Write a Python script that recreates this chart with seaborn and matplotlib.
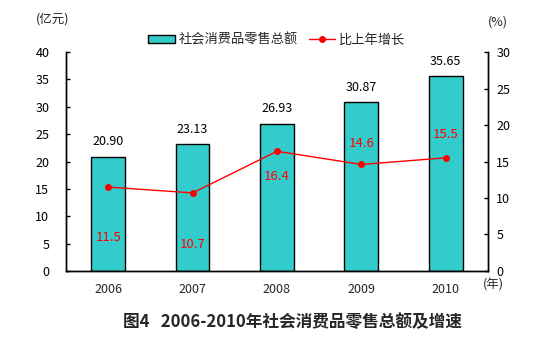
import numpy as np
import pandas as pd
import seaborn as sns
import matplotlib.pyplot as plt
from matplotlib.patches import Patch
from matplotlib.lines import Line2D

years = ['2006', '2007', '2008', '2009', '2010']
sales = [20.90, 23.13, 26.93, 30.87, 35.65]   # 亿元
growth = [11.5, 10.7, 16.4, 14.6, 15.5]       # %

# vertical offset (points) of the red growth labels from their markers
growth_label_off = [-36, -37, -18, 15, 17]

sns.set_style('white')
plt.rcParams['font.family'] = ['Noto Sans CJK SC', 'DejaVu Sans']

df = pd.DataFrame({'year': years, 'sales': sales})

fig = plt.figure(figsize=(5.57, 3.54), dpi=100)
ax = fig.add_axes([0.1185, 0.2345, 0.7575, 0.6185])

sns.barplot(data=df, x='year', y='sales', color='#33CCCC', saturation=1,
            edgecolor='black', linewidth=1, width=0.4, ax=ax)

ax.set_ylim(0, 40)
ax.set_yticks(np.arange(0, 41, 5))
ax.set_xlim(-0.5, 4.5)
ax.set_xlabel('')
ax.set_ylabel('')
ax.tick_params(axis='y', direction='in', length=3, width=1, labelsize=9, pad=12, colors='black')
ax.tick_params(axis='x', which='major', length=0, labelsize=9, pad=9)
ax.set_xticks([0.5, 1.5, 2.5, 3.5], minor=True)
ax.tick_params(axis='x', which='minor', direction='in', length=3, width=1)

for i, v in enumerate(sales):
    ax.annotate(f'{v:.2f}', (i, v), xytext=(0, 6), textcoords='offset points',
                ha='center', va='bottom', fontsize=9, color='black')

ax2 = ax.twinx()
x_pos = np.arange(len(years))
ax2.plot(x_pos, growth, color='red', linewidth=1, marker='o', markersize=4)
ax2.set_ylim(0, 30)
ax2.set_yticks(np.arange(0, 31, 5))
ax2.tick_params(axis='y', direction='in', length=3, width=1, labelsize=9, pad=6, colors='black')

for i, v in enumerate(growth):
    ax2.annotate(f'{v:.1f}', (i, v), xytext=(0, growth_label_off[i]), textcoords='offset points',
                 ha='center', va='center', fontsize=9.5, color='red')

for a in (ax, ax2):
    a.spines['top'].set_visible(False)
    for s in ('left', 'right', 'bottom'):
        a.spines[s].set_color('black')
        a.spines[s].set_linewidth(1)

fig.text(0.095, 0.945, '(亿元)', fontsize=9, ha='center', va='center')
fig.text(0.893, 0.937, '(%)', fontsize=9, ha='center', va='center')
fig.text(0.885, 0.195, '(年)', fontsize=9, ha='center', va='center')

handles = [Patch(facecolor='#33CCCC', edgecolor='black', linewidth=1),
           Line2D([0], [0], color='red', linewidth=1, marker='o', markersize=4)]
fig.legend(handles, ['社会消费品零售总额', '比上年增长'], loc='center',
           bbox_to_anchor=(0.497, 0.887), ncol=2, frameon=False, fontsize=9.5,
           handlelength=2.0, handleheight=0.55, columnspacing=0.8, handletextpad=0.3)

fig.text(0.525, 0.09, '图4   2006-2010年社会消费品零售总额及增速', fontsize=12,
         fontweight='bold', ha='center', va='center')

fig.savefig('out.png', dpi=100, facecolor='white')
